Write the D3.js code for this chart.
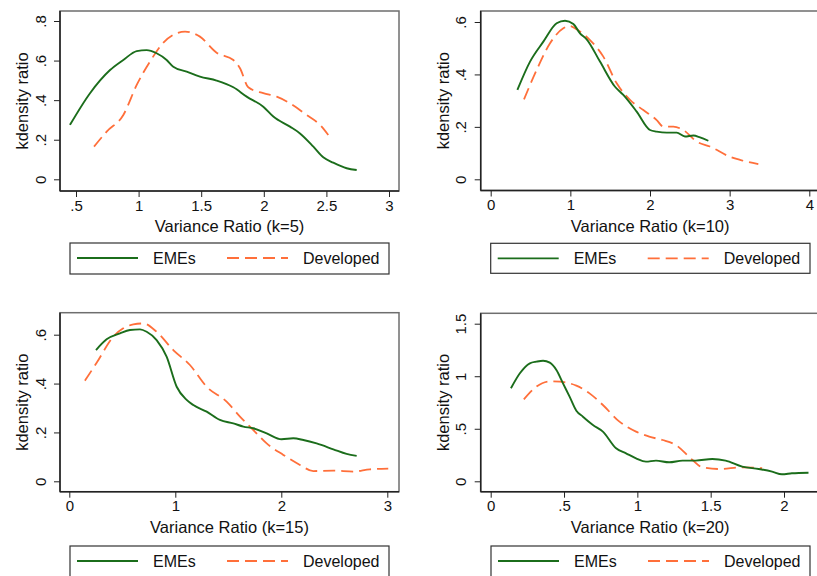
<!DOCTYPE html>
<html><head><meta charset="utf-8">
<script src="https://cdn.jsdelivr.net/npm/d3@7"></script>
<style>body{margin:0;background:#fff;}svg{display:block;font-family:"Liberation Sans",Arial,sans-serif;}</style>
</head><body><svg id="c" width="817" height="576"></svg>
<script>
const seriesNames = ["EMEs", "Developed"];
const yTitle = "kdensity ratio";

// k=5
const emesK5 = [[0.452,0.275],[0.612,0.435],[0.772,0.552],[0.878,0.603],[0.985,0.648],[1.064,0.653],[1.144,0.637],[1.224,0.603],[1.277,0.569],[1.384,0.544],[1.49,0.519],[1.623,0.499],[1.757,0.465],[1.863,0.418],[1.996,0.367],[2.076,0.317],[2.209,0.266],[2.289,0.232],[2.396,0.165],[2.475,0.111],[2.555,0.084],[2.662,0.056],[2.742,0.047]];
const devK5 = [[0.644,0.165],[0.745,0.241],[0.878,0.325],[0.985,0.477],[1.091,0.595],[1.198,0.691],[1.304,0.738],[1.371,0.746],[1.49,0.721],[1.623,0.64],[1.757,0.603],[1.81,0.561],[1.876,0.465],[1.996,0.435],[2.103,0.418],[2.209,0.384],[2.342,0.325],[2.449,0.275],[2.515,0.224]];
// k=10
const emesK10 = [[0.335,0.341],[0.494,0.449],[0.661,0.525],[0.828,0.595],[0.933,0.605],[1.038,0.592],[1.121,0.557],[1.205,0.534],[1.372,0.449],[1.561,0.353],[1.665,0.322],[1.833,0.258],[2.0,0.188],[2.084,0.182],[2.21,0.178],[2.335,0.178],[2.439,0.163],[2.544,0.167],[2.628,0.16],[2.732,0.147]];
const devK10 = [[0.418,0.305],[0.577,0.417],[0.745,0.519],[0.912,0.576],[0.996,0.585],[1.079,0.572],[1.247,0.531],[1.414,0.468],[1.582,0.366],[1.749,0.303],[1.916,0.264],[2.084,0.226],[2.167,0.201],[2.293,0.201],[2.418,0.188],[2.586,0.144],[2.753,0.125],[3.004,0.086],[3.13,0.074],[3.36,0.058]];
// k=15
const emesK15 = [[0.252,0.537],[0.352,0.581],[0.478,0.605],[0.572,0.619],[0.667,0.622],[0.73,0.612],[0.824,0.578],[0.918,0.51],[1.013,0.387],[1.107,0.333],[1.17,0.312],[1.296,0.285],[1.421,0.251],[1.547,0.237],[1.642,0.224],[1.736,0.217],[1.862,0.196],[2.003,0.172],[2.113,0.176],[2.208,0.169],[2.333,0.155],[2.491,0.131],[2.616,0.112],[2.711,0.104]];
const devK15 = [[0.148,0.412],[0.258,0.485],[0.415,0.592],[0.509,0.626],[0.604,0.642],[0.698,0.646],[0.824,0.612],[0.981,0.537],[1.138,0.476],[1.296,0.387],[1.484,0.326],[1.61,0.265],[1.736,0.21],[1.862,0.155],[2.019,0.108],[2.176,0.067],[2.302,0.042],[2.491,0.044],[2.679,0.04],[2.836,0.049],[3.009,0.052]];
// k=20
const emesK20 = [[0.138,0.885],[0.199,1.028],[0.267,1.123],[0.312,1.139],[0.357,1.148],[0.403,1.129],[0.448,1.059],[0.493,0.932],[0.538,0.806],[0.584,0.672],[0.629,0.615],[0.697,0.536],[0.765,0.473],[0.855,0.314],[0.923,0.266],[0.991,0.219],[1.059,0.187],[1.127,0.197],[1.217,0.181],[1.308,0.197],[1.398,0.197],[1.511,0.212],[1.602,0.197],[1.715,0.14],[1.828,0.117],[1.919,0.092],[1.986,0.067],[2.054,0.076],[2.167,0.082]];
const devK20 = [[0.226,0.78],[0.312,0.901],[0.403,0.951],[0.471,0.948],[0.584,0.91],[0.674,0.837],[0.765,0.726],[0.878,0.568],[0.991,0.473],[1.081,0.425],[1.172,0.393],[1.262,0.346],[1.376,0.203],[1.443,0.133],[1.557,0.117],[1.715,0.133],[1.851,0.124]];

const xTicksK5 = [0.5,1,1.5,2,2.5,3];
const yTicksK5 = [0,0.2,0.4,0.6,0.8];
const xTicksK10 = [0,1,2,3,4];
const yTicksK10 = [0,0.2,0.4,0.6];
const xTicksK15 = [0,1,2,3];
const yTicksK15 = [0,0.2,0.4,0.6];
const xTicksK20 = [0,0.5,1,1.5,2];
const yTicksK20 = [0,0.5,1,1.5];
const xTitles = ["Variance Ratio (k=5)","Variance Ratio (k=10)","Variance Ratio (k=15)","Variance Ratio (k=20)"];

const GREEN = "#1b6d1b", ORANGE = "#ff6f3a";
const fmt = v => { if (v === 0) return "0"; let s = String(v); if (s.startsWith("0.")) s = s.slice(1); return s; };

const panels = [
  {emes: emesK5, dev: devK5, xt: xTicksK5, yt: yTicksK5, title: xTitles[0],
   xd:[0.5,3], xr:[76,389], yd:[0,0.8], yr:[179.3,21], frame:[60,11,399,191], leg:[70,243,389,274]},
  {emes: emesK10, dev: devK10, xt: xTicksK10, yt: yTicksK10, title: xTitles[1],
   xd:[0,4], xr:[490.7,809.3], yd:[0,0.6], yr:[179.3,22], frame:[480.7,11,819.5,190.5], leg:[490.7,243.3,810,273.3]},
  {emes: emesK15, dev: devK15, xt: xTicksK15, yt: yTicksK15, title: xTitles[2],
   xd:[0,3], xr:[69.3,387.3], yd:[0,0.6], yr:[481.3,334.7], frame:[60,312.7,399,491.7], leg:[70,546,389,580]},
  {emes: emesK20, dev: devK20, xt: xTicksK20, yt: yTicksK20, title: xTitles[3],
   xd:[0,2], xr:[490.7,784], yd:[0,1.5], yr:[481.3,323.7], frame:[480.7,313.3,819.5,491.7], leg:[491,546,810,580]}
];

const svg = d3.select("#c");
panels.forEach(p => {
  const g = svg.append("g");
  const x = d3.scaleLinear().domain(p.xd).range(p.xr);
  const y = d3.scaleLinear().domain(p.yd).range(p.yr);
  const [fx0, fy0, fx1, fy1] = p.frame;
  g.append("rect").attr("x", fx0).attr("y", fy0).attr("width", fx1 - fx0).attr("height", fy1 - fy0)
    .attr("fill", "#fff").attr("stroke", "#6e6e6e").attr("stroke-width", 1.5);
  const ax = g.append("g").attr("transform", `translate(0,${fy1})`)
    .call(d3.axisBottom(x).tickValues(p.xt).tickFormat(fmt).tickSize(6).tickPadding(3));
  const ay = g.append("g").attr("transform", `translate(${fx0},0)`)
    .call(d3.axisLeft(y).tickValues(p.yt).tickFormat(fmt).tickSize(6).tickPadding(3));
  [ax, ay].forEach(a => {
    a.select(".domain").remove();
    a.selectAll("line").attr("stroke", "#222").attr("stroke-width", 1);
    a.selectAll("text").attr("fill", "#111").style("font-size", "15px");
  });
  g.append("line").attr("x1", fx0).attr("x2", fx1).attr("y1", fy1).attr("y2", fy1).attr("stroke", "#222").attr("stroke-width", 1.5);
  g.append("line").attr("x1", fx0).attr("x2", fx0).attr("y1", fy0).attr("y2", fy1).attr("stroke", "#222").attr("stroke-width", 1.5);
  ax.selectAll("text").attr("dy", null).attr("dominant-baseline", "central").attr("y", 14);
  ay.selectAll("text").attr("dy", null)
    .attr("text-anchor", "middle").attr("dominant-baseline", "central")
    .attr("transform", `translate(-20,0) rotate(-90)`)
    .attr("x", 0).attr("y", 0);
  g.append("text").attr("x", (fx0 + fx1) / 2).attr("y", fy1 + 35)
    .attr("text-anchor", "middle").attr("dominant-baseline", "central").style("font-size", "16.5px").attr("fill", "#111")
    .text(p.title);
  g.append("text").attr("transform", `translate(${fx0 - 38},${(fy0 + fy1) / 2}) rotate(-90)`)
    .attr("text-anchor", "middle").attr("dominant-baseline", "central").style("font-size", "16.5px").attr("fill", "#111")
    .text(yTitle);
  const line = d3.line().x(d => x(d[0])).y(d => y(d[1])).curve(d3.curveMonotoneX);
  g.append("path").datum(p.dev).attr("d", line).attr("fill", "none").attr("stroke", ORANGE)
    .attr("stroke-width", 1.8).attr("stroke-dasharray", "12,6");
  g.append("path").datum(p.emes).attr("d", line).attr("fill", "none").attr("stroke", GREEN)
    .attr("stroke-width", 1.9);
  const [lx0, ly0, lx1, ly1] = p.leg;
  const lg = g.append("g");
  lg.append("rect").attr("x", lx0).attr("y", ly0).attr("width", lx1 - lx0).attr("height", ly1 - ly0)
    .attr("fill", "#fff").attr("stroke", "#333").attr("stroke-width", 1.2);
  const cy = ly0 + 15;
  lg.append("line").attr("x1", lx0 + 7).attr("x2", lx0 + 68).attr("y1", cy).attr("y2", cy)
    .attr("stroke", GREEN).attr("stroke-width", 1.8);
  lg.append("text").attr("x", lx0 + 83).attr("y", cy).attr("dominant-baseline", "central")
    .style("font-size", "16px").attr("fill", "#111").text(seriesNames[0]);
  lg.append("line").attr("x1", lx0 + 157).attr("x2", lx0 + 218).attr("y1", cy).attr("y2", cy)
    .attr("stroke", ORANGE).attr("stroke-width", 1.8).attr("stroke-dasharray", "12,6");
  lg.append("text").attr("x", lx0 + 233).attr("y", cy).attr("dominant-baseline", "central")
    .style("font-size", "16px").attr("fill", "#111").text(seriesNames[1]);
});
</script></body></html>
